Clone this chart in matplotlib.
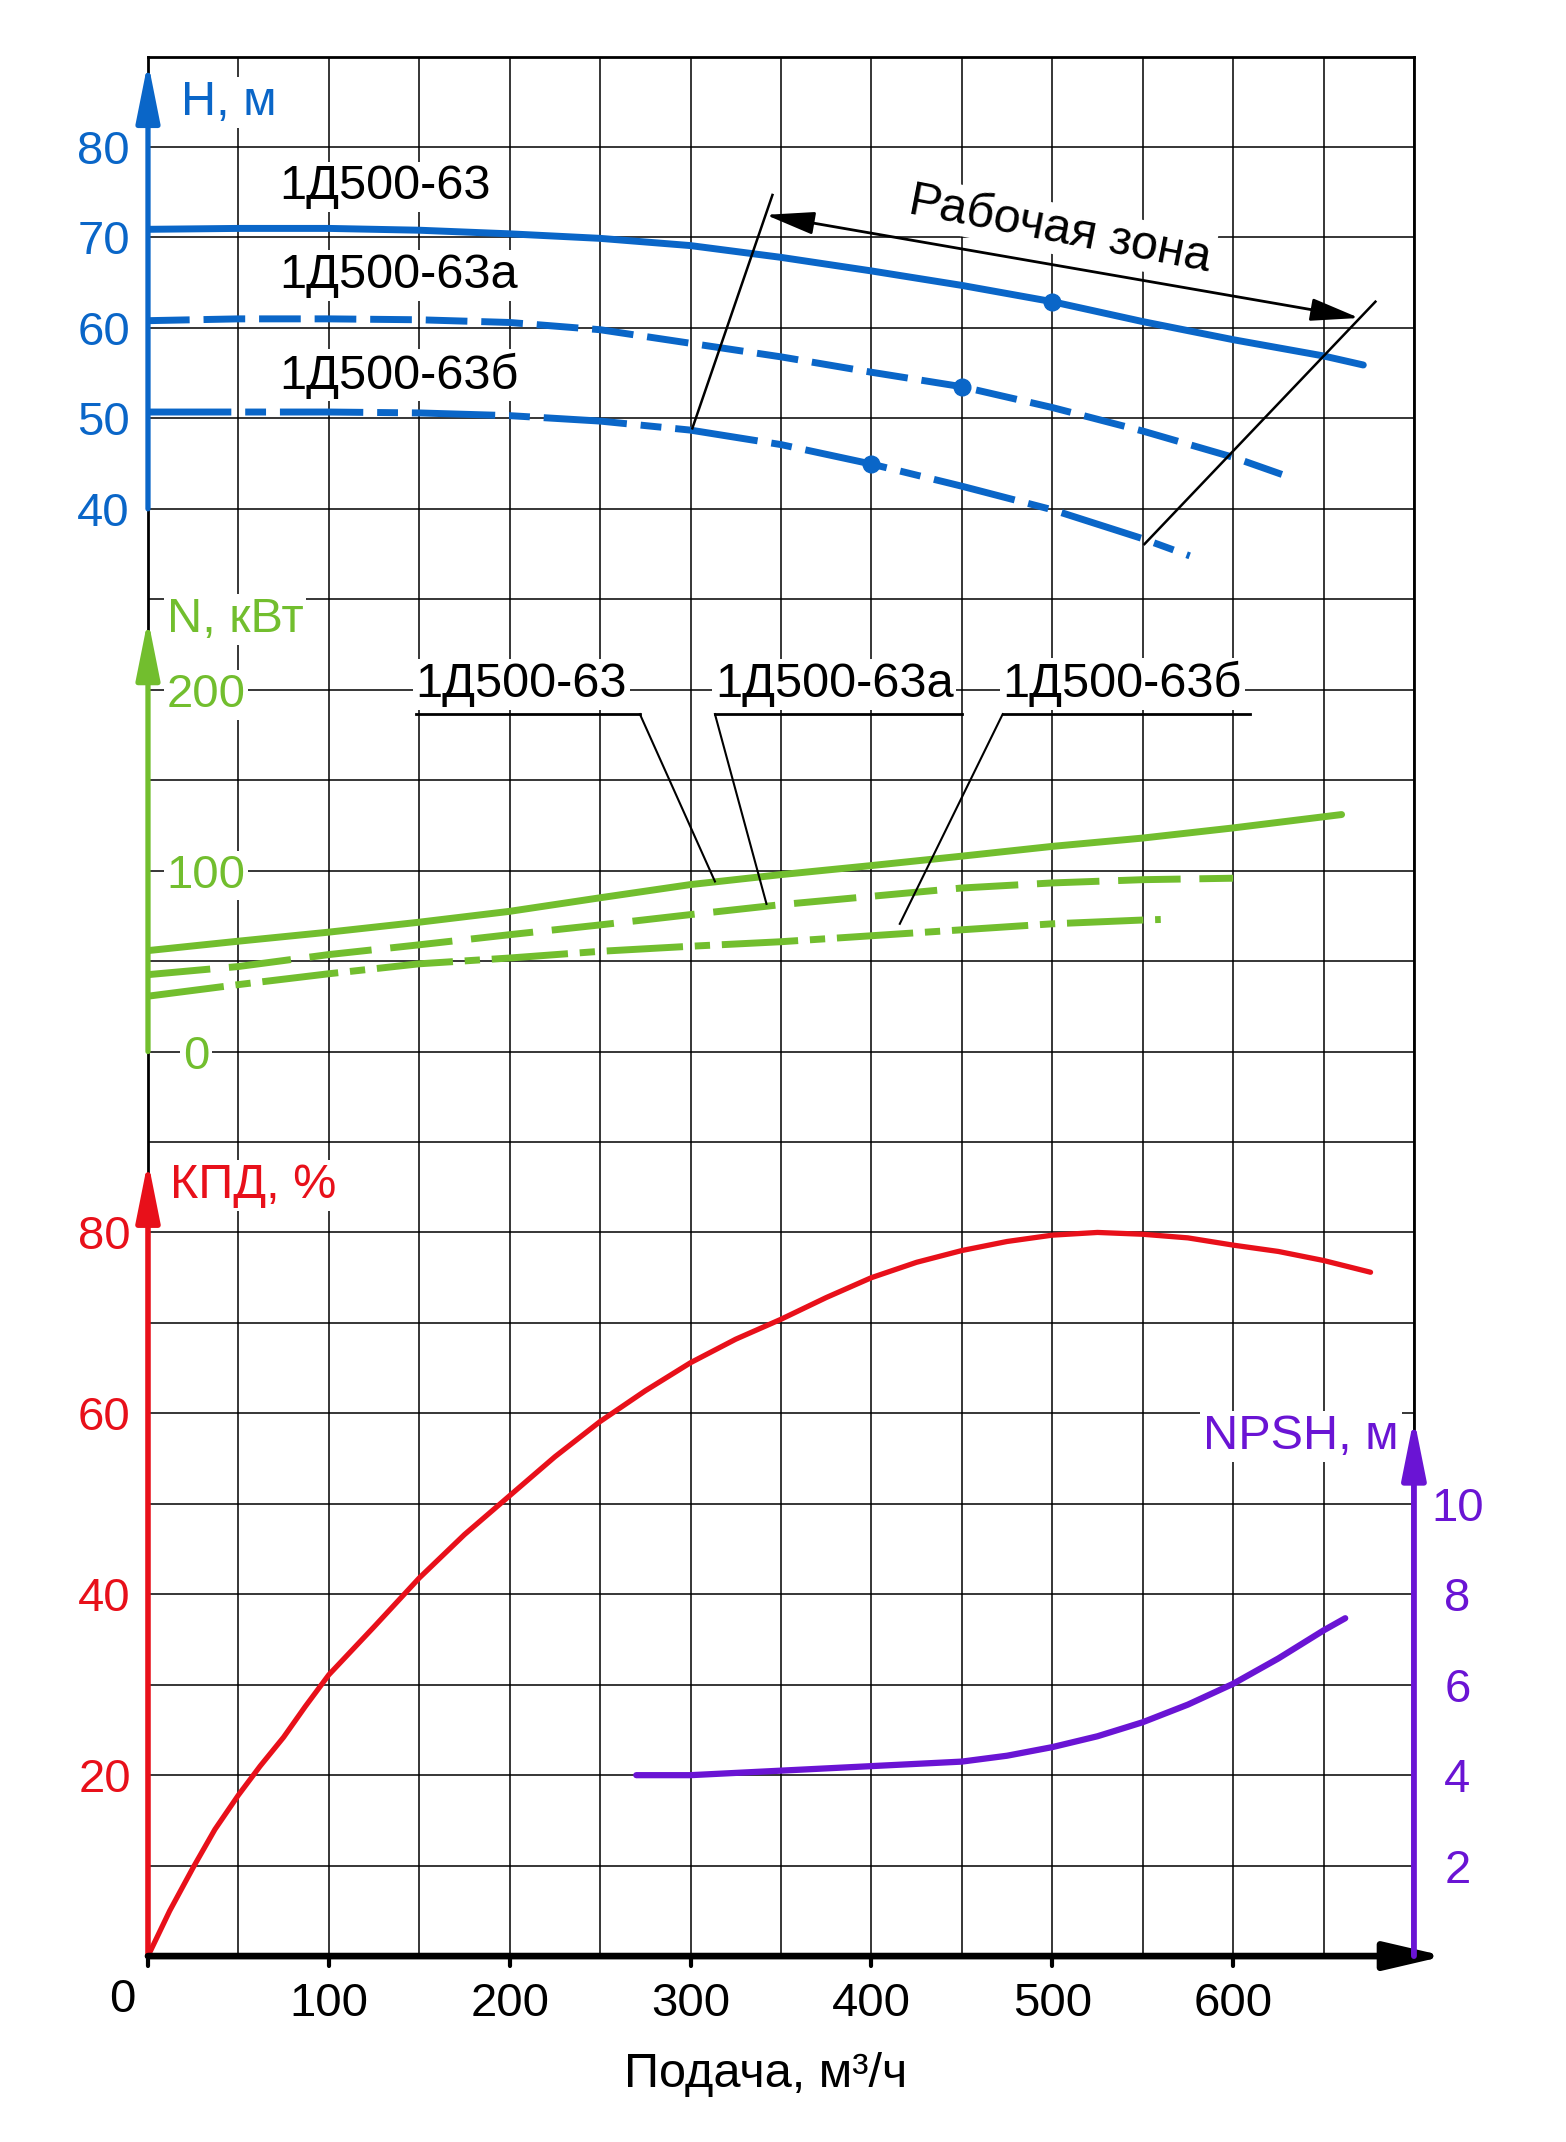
import numpy as np
import matplotlib.pyplot as plt

plt.rcParams['font.family'] = ['Liberation Sans', 'DejaVu Sans']

BLUE = '#0a66c8'
GREEN = '#72be2e'
RED = '#e8101a'
PURPLE = '#6a14d4'

# --- напор H, м ---
q_h63 = [0, 50, 100, 150, 200, 250, 300, 350, 400, 450, 500, 550, 600, 650, 672]
h_63 = [70.9, 71.0, 71.0, 70.8, 70.4, 69.9, 69.1, 67.8, 66.3, 64.7, 62.9, 60.7, 58.7, 56.9, 55.9]
q_h63a = [0, 50, 100, 150, 200, 250, 300, 350, 400, 450, 500, 550, 600, 627]
h_63a = [60.8, 61.0, 61.0, 60.9, 60.6, 59.8, 58.3, 56.8, 55.1, 53.5, 51.2, 48.6, 45.7, 43.8]
q_h63b = [0, 50, 100, 150, 200, 250, 300, 350, 400, 450, 500, 550, 576]
h_63b = [50.7, 50.7, 50.7, 50.6, 50.3, 49.7, 48.7, 47.1, 44.95, 42.5, 39.9, 36.7, 34.8]
q_pts = [500, 450, 400]
h_pts = [62.9, 53.5, 44.95]

# --- мощность N, кВт ---
q_n63 = [0, 50, 100, 150, 200, 250, 300, 350, 400, 450, 500, 550, 600, 660]
n_63 = [55.8, 61, 66, 71.5, 77.5, 85, 92.3, 97.8, 102.8, 108, 113.4, 118, 123.6, 131]
q_n63a = [0, 50, 100, 150, 200, 250, 300, 350, 400, 450, 500, 550, 600]
n_63a = [42.5, 47, 53.6, 59, 64.6, 70, 75.7, 81.2, 85.8, 90.4, 93.2, 95, 95.8]
q_n63b = [0, 50, 100, 150, 200, 250, 300, 350, 400, 450, 500, 550, 560]
n_63b = [30.6, 37, 43, 48.5, 51.7, 55.4, 58.2, 60.7, 64, 67.3, 70.6, 72.7, 73]

# --- КПД, % ---
q_eff = [0, 12, 25, 37, 50, 62, 75, 87, 100, 125, 150, 175, 200, 225, 250, 275, 300,
         325, 350, 375, 400, 425, 450, 475, 500, 525, 550, 575, 600, 625, 650, 676]
eff = [0, 5.0, 9.8, 14.0, 17.8, 21.0, 24.2, 27.6, 31.1, 36.4, 41.8, 46.6, 50.9, 55.2,
       59.1, 62.5, 65.6, 68.2, 70.4, 72.8, 75.0, 76.7, 78.0, 79.0, 79.7, 80.0, 79.8,
       79.4, 78.6, 77.9, 76.9, 75.6]

# --- NPSH, м ---
q_npsh = [270, 300, 350, 400, 450, 475, 500, 525, 550, 575, 600, 625, 650, 662]
npsh = [4.0, 4.0, 4.1, 4.2, 4.3, 4.43, 4.62, 4.86, 5.17, 5.56, 6.02, 6.58, 7.2, 7.47]

x_ticks = [100, 200, 300, 400, 500, 600]
h_ticks = [40, 50, 60, 70, 80]
n_ticks = [0, 100, 200]
eff_ticks = [20, 40, 60, 80]
npsh_ticks = [2, 4, 6, 8, 10]
labels = ['1Д500-63', '1Д500-63а', '1Д500-63б']


def wbox():
    return dict(facecolor='white', edgecolor='none', pad=2)


def axis_arrow(a, x0, y0, x1, y1, color, lw, style='-|>,head_length=1.8,head_width=0.36'):
    a.annotate('', xy=(x1, y1), xytext=(x0, y0), annotation_clip=False,
               arrowprops=dict(arrowstyle=style, color=color, lw=lw,
                               shrinkA=0, shrinkB=0, mutation_scale=20))


fig = plt.figure(figsize=(15.66, 21.42), dpi=100)
ax = fig.add_axes([0.0945, 0.0868, 0.8084, 0.8868])
ax.set_xlim(0, 700)
ax.set_ylim(-120, 90)
ax.set_xticks(np.arange(0, 701, 50))
ax.set_yticks(np.arange(-120, 91, 10))
ax.grid(True, color='black', lw=1.1)
ax.tick_params(length=0, labelbottom=False, labelleft=False)
for s in ['top', 'left', 'right']:
    ax.spines[s].set_linewidth(2)
ax.spines['bottom'].set_visible(False)

ax_n = ax.twinx()
ax_n.set_ylim(-500, 550)
ax_k = ax.twinx()
ax_k.set_ylim(0, 210)
ax_p = ax.twinx()
ax_p.set_ylim(0, 42)
for a in (ax_n, ax_k, ax_p):
    a.axis('off')

# H
ax.plot(q_h63, h_63, color=BLUE, lw=5, solid_capstyle='round', solid_joinstyle='round')
ax.plot(q_h63a, h_63a, color=BLUE, lw=5, dashes=(6, 2))
ax.plot(q_h63b, h_63b, color=BLUE, lw=5, dashes=(12, 2, 3, 2))
ax.plot(q_pts, h_pts, 'o', color=BLUE, ms=12)
axis_arrow(ax, 0, 40, 0, 89.4, BLUE, 3.8)
for v in h_ticks:
    ax.text(-10, v, str(v), color=BLUE, fontsize=34, ha='right', va='center_baseline')
ax.text(18, 85.5, 'H, м', color=BLUE, fontsize=35, va='center_baseline', bbox=wbox())
for lab, y in zip(labels, [74.2, 64.4, 53.3]):
    ax.text(72.6, y, lab, fontsize=35, va='baseline', bbox=wbox())

# рабочая зона
ax.plot([301, 345.3], [48.9, 74.7], color='black', lw=1.8)
ax.plot([551, 678.7], [36.1, 62.9], color='black', lw=1.8)
axis_arrow(ax, 341.6, 72.5, 669.7, 61.1, 'black', 2,
           style='<|-|>,head_length=1.5,head_width=0.35')
ax.text(505, 71.4, 'Рабочая зона', fontsize=35, rotation=-11, rotation_mode='anchor',
        ha='center', va='center_baseline', bbox=wbox())

# N
ax_n.plot(q_n63, n_63, color=GREEN, lw=5, solid_capstyle='round', solid_joinstyle='round')
ax_n.plot(q_n63a, n_63a, color=GREEN, lw=5, dashes=(9, 2.7))
ax_n.plot(q_n63b, n_63b, color=GREEN, lw=5, dashes=(11, 1.7, 2.2, 1.7))
axis_arrow(ax_n, 0, 0, 0, 239, GREEN, 3.8)
for v, x in zip(n_ticks, [19.2, 10.3, 10.3]):
    ax_n.text(x, v, str(v), color=GREEN, fontsize=34, ha='left', va='center_baseline', bbox=wbox())
ax_n.text(10.3, 241.5, 'N, кВт', color=GREEN, fontsize=35, va='center_baseline', bbox=wbox())
for lab, x0, x1 in zip(labels, [148, 313.5, 472.6], [272, 450, 609.6]):
    ax_n.text(x0, 196, lab, fontsize=35, va='baseline', bbox=wbox())
    ax_n.plot([x0, x1], [186.5, 186.5], color='black', lw=2)
ax_n.plot([272, 313.5], [186.5, 94], color='black', lw=1.5)
ax_n.plot([313.5, 342], [186.5, 81.6], color='black', lw=1.5)
ax_n.plot([472.6, 415.7], [186.5, 70.6], color='black', lw=1.5)

# КПД
ax_k.plot(q_eff, eff, color=RED, lw=3.8, solid_capstyle='round', solid_joinstyle='round')
axis_arrow(ax_k, 0, 0, 0, 87.9, RED, 4)
for v in eff_ticks:
    ax_k.text(-9.5, v, str(v), color=RED, fontsize=34, ha='right', va='center_baseline')
ax_k.text(12.2, 85.75, 'КПД, %', color=RED, fontsize=35, va='center_baseline', bbox=wbox())

# NPSH
ax_p.plot(q_npsh, npsh, color=PURPLE, lw=4.5, solid_capstyle='round', solid_joinstyle='round')
axis_arrow(ax_p, 700, 0, 700, 11.9, PURPLE, 4.2)
for v in npsh_ticks:
    ax_p.text(724, v, str(v), color=PURPLE, fontsize=34, ha='center', va='center_baseline')
ax_p.text(691.6, 11.6, 'NPSH, м', color=PURPLE, fontsize=35, ha='right', va='center_baseline',
          bbox=wbox())

# ось подачи
axis_arrow(ax_k, 0, 0, 717, 0, 'black', 4.8, style='-|>,head_length=1.8,head_width=0.42')
for v in [0] + x_ticks:
    ax_k.plot([v, v], [0, -1.1], color='black', lw=3, solid_capstyle='round', clip_on=False)
for v in x_ticks:
    ax_k.text(v, -6.6, str(v), fontsize=34, ha='center', va='baseline')
ax_k.text(-14.4, -6.2, '0', fontsize=34, ha='center', va='baseline')
ax_k.text(341.6, -14.5, 'Подача, м³/ч', fontsize=35, ha='center', va='baseline')

fig.savefig('out.png', dpi=100)
